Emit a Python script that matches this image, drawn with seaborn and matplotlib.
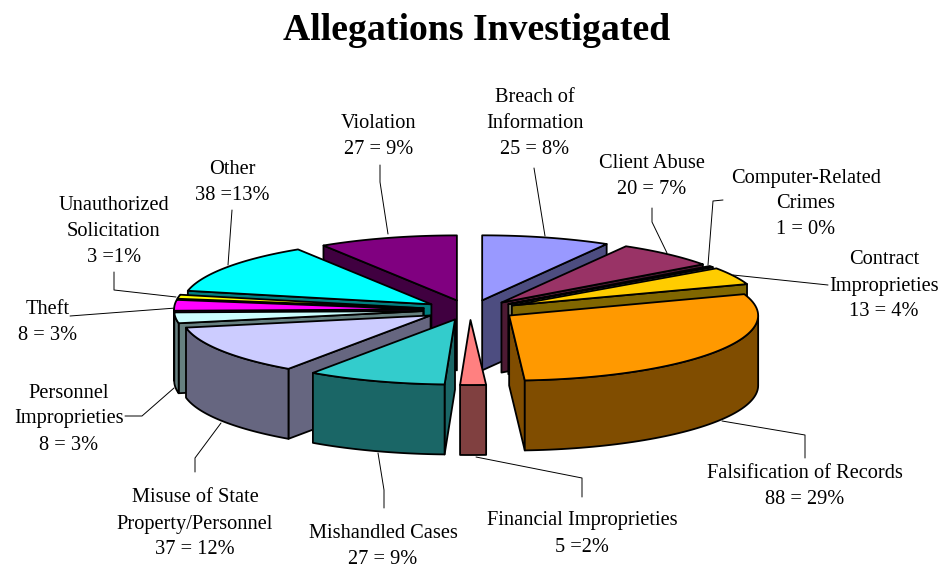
import numpy as np
import matplotlib
matplotlib.use("Agg")
import matplotlib.pyplot as plt
from matplotlib.patches import Polygon
import seaborn as sns

# data
categories = ["Breach", "Client", "Computer", "Contract", "Falsification", "Financial",
              "Mishandled", "Misuse", "Personnel", "Theft", "Unauthorized", "Other", "Violation"]
values = [25, 20, 1, 13, 88, 5, 27, 37, 8, 8, 3, 38, 27]
colors = ["#9999FF", "#993366", "#FFFFCC", "#FFCC00", "#FF9900", "#FF8080", "#33CCCC",
          "#CCCCFF", "#CCFFFF", "#FF00FF", "#FFFF00", "#00FFFF", "#800080"]
labels = ["Breach of\nInformation\n25 = 8%", "Client Abuse\n20 = 7%",
          "Computer-Related\nCrimes\n1 = 0%", "Contract\nImproprieties\n13 = 4%",
          "Falsification of Records\n88 = 29%", "Financial Improprieties\n5 =2%",
          "Mishandled Cases\n27 = 9%", "Misuse of State\nProperty/Personnel\n37 = 12%",
          "Personnel\nImproprieties\n8 = 3%", "Theft\n8 = 3%",
          "Unauthorized\nSolicitation\n3 =1%", "Other\n38 =13%", "Violation\n27 = 9%"]
label_pos = [(535, 124), (652, 176), (806, 204), (884, 286), (805, 487), (582, 534),
             (383, 546), (195, 524), (69, 419), (48, 323), (114, 232), (232, 183), (379, 136)]
leaders = [[(534, 168), (545, 236)],
           [(652, 208), (652, 222), (667, 253)],
           [(723, 200), (713, 201), (708, 265)],
           [(828, 285), (733, 275)],
           [(722, 421), (805, 435), (805, 458)],
           [(476, 457), (582, 478), (582, 497)],
           [(378, 453), (384, 490), (384, 508)],
           [(221, 423), (195, 458), (195, 472)],
           [(174, 388), (142, 416), (125, 416)],
           [(70, 316), (176, 308)],
           [(114, 272), (114, 290), (176, 297)],
           [(232, 210), (228, 265)],
           [(380, 165), (380, 182), (388, 234)]]

# pie geometry in pixels
cx, cy = 470, 310
rx, ry = 249, 65
ex, ey = 47, 10
depth = 70

sns.set_theme(style="white")
plt.rcParams["font.family"] = ["Liberation Serif", "DejaVu Sans"]
palette = sns.color_palette(colors)

fig = plt.figure(figsize=(9.42, 5.67), dpi=100)
ax = fig.add_axes([0, 0, 1, 1])
ax.set_xlim(0, 942)
ax.set_ylim(567, 0)
ax.axis("off")

ends = np.cumsum(values) / sum(values) * 2 * np.pi
starts = ends - np.array(values) / sum(values) * 2 * np.pi
mids = (starts + ends) / 2


def arc(ox, oy, a, b, drop=0):
    t = np.linspace(a, b, 60)
    return np.column_stack([ox + rx * np.sin(t), oy - ry * np.cos(t) + drop])


def face(points, color, z):
    ax.add_patch(Polygon(points, closed=True, facecolor=color, edgecolor="black",
                         linewidth=1.3, joinstyle="round", zorder=z))


for line in leaders:
    xs, ys = zip(*line)
    ax.plot(xs, ys, color="black", lw=0.7, zorder=1)

# back slices first so the front ones cover them
order = np.argsort(-np.cos(mids))
z = 2
for i in order:
    a, b = starts[i], ends[i]
    ox = cx + ex * np.sin(mids[i])
    oy = cy - ey * np.cos(mids[i])
    top = palette[i]
    side = tuple(c * 0.5 for c in top)

    for ang, visible in ((a, np.sin(a) < 0), (b, np.sin(b) > 0)):
        if visible:
            px, py = ox + rx * np.sin(ang), oy - ry * np.cos(ang)
            face([(ox, oy), (px, py), (px, py + depth), (ox, oy + depth)], side, z)
            z += 1

    w0, w1 = max(a, np.pi / 2), min(b, 3 * np.pi / 2)
    if w1 > w0:
        face(np.vstack([arc(ox, oy, w0, w1), arc(ox, oy, w1, w0, depth)]), side, z)
        z += 1

    face(np.vstack([[(ox, oy)], arc(ox, oy, a, b)]), top, z)
    z += 1

for text, (x, y) in zip(labels, label_pos):
    ax.text(x, y, text, ha="center", va="center", fontsize=14.7, linespacing=1.5,
            color="black", zorder=100)

ax.text(477, 30, "Allegations Investigated", ha="center", va="center", fontsize=27.2,
        fontweight="bold", color="black")

fig.savefig("out.png", dpi=100, facecolor="white")
